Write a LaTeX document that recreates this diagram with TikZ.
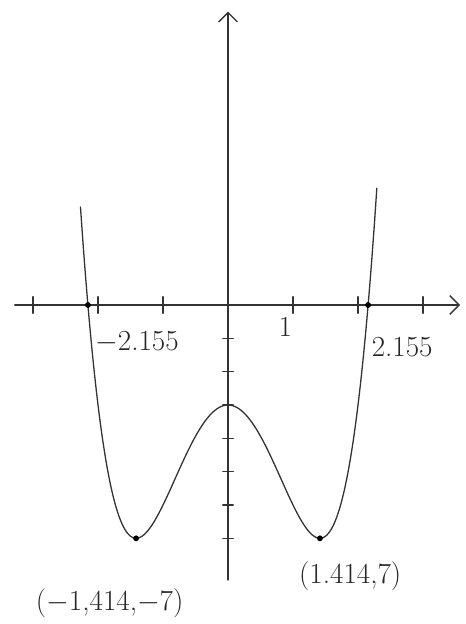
\documentclass[tikz,border=0pt]{standalone}
\usepackage{amsmath}
\usetikzlibrary{arrows.meta,positioning}
\tikzset{
  pen/.style={line width=1.1pt, black!80, line cap=round},
  dotpt/.style={circle, fill=black, inner sep=0pt, minimum size=5pt},
  lbl/.style={font=\Huge, text=black!85}
}
\begin{document}
\begin{tikzpicture}[x=1.95cm,y=1cm]
				\useasboundingbox (-3.508,-9.57) rectangle (3.646,9.15);
				% Axes
				\draw[pen,-{Straight Barb[length=8pt,width=16pt]}] (-3.28,0) -- (3.57,0) coordinate (xend);
				\draw[pen,-{Straight Barb[length=8pt,width=16pt]}] (0,-8.25) -- (0,8.8) coordinate (yend);
				% Axis ticks
				\foreach \x in {-3,-2,-1,1,2,3}
					\draw[pen] (\x,0.25) -- (\x,-0.25);
				\foreach \y in {-1,-2,-3,-4,-5,-6,-7}
					\draw[pen] (-0.08,\y) -- (0.08,\y);
				% Curve
				\draw[pen,domain=-2.27:2.29,smooth,samples=120] plot (\x,{(\x)^4-4*(\x)^2-3});
				% Points
				\node[dotpt] (rootL) at (-2.155,0) {};
				\node[dotpt] (rootR) at (2.155,0) {};
				\node[dotpt] (minL) at (-1.414,-7) {};
				\node[dotpt] (minR) at (1.414,-7) {};
				% Labels
				\node[lbl] (lrootL) at (-1.4,-1.1) {$-$2.155};
				\node[lbl] (lone) at (0.88,-0.65) {1};
				\node[lbl] (lrootR) at (2.68,-1.25) {2.155};
				\node[lbl] (lminL) at (-1.82,-8.95) {($-$1,414,$-$7)};
				\node[lbl] (lminR) at (1.88,-8.15) {(1.414,7)};
			\end{tikzpicture}
\end{document}
